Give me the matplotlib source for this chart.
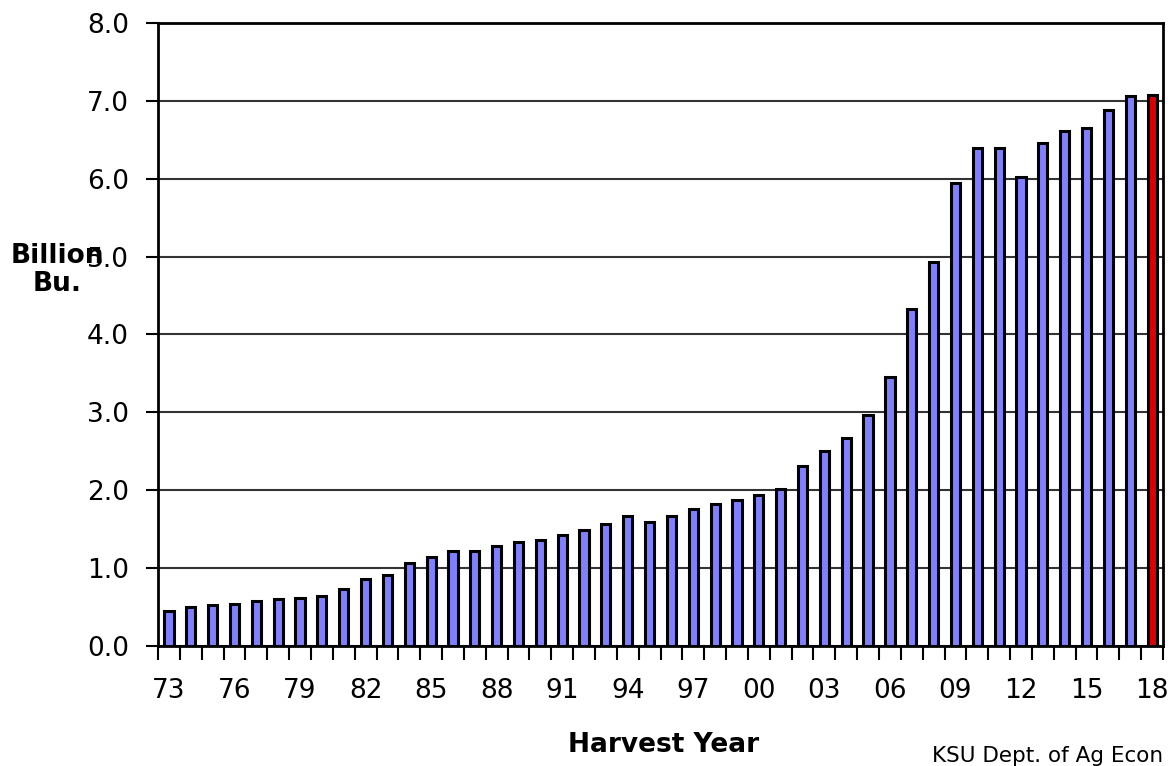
import numpy as np
import matplotlib
matplotlib.use('Agg')
import matplotlib.pyplot as plt

# Harvest years 1973-2018 and storage capacity (billion bushels)
years = np.arange(1973, 2019)
capacity = [0.45, 0.50, 0.52, 0.54, 0.58, 0.60, 0.62, 0.64, 0.73, 0.86,
            0.91, 1.06, 1.14, 1.22, 1.22, 1.28, 1.34, 1.36, 1.42, 1.49,
            1.57, 1.67, 1.59, 1.67, 1.76, 1.82, 1.88, 1.94, 2.02, 2.31,
            2.50, 2.67, 2.96, 3.46, 4.33, 4.93, 5.94, 6.40, 6.40, 6.02,
            6.46, 6.61, 6.65, 6.88, 7.06, 7.08]
yticks = [0, 1, 2, 3, 4, 5, 6, 7, 8]
label_years = years[::3]

x = np.arange(len(years))
colors = ['#8080FF'] * (len(years) - 1) + ['#DD0000']

fig = plt.figure(figsize=(11.75, 7.66), dpi=100)
ax = fig.add_axes([0.1345, 0.1567, 0.8553, 0.8133])

ax.set_axisbelow(True)
ax.yaxis.grid(True, color='#333333', linewidth=1.5)
ax.bar(x, capacity, width=0.42, color=colors, edgecolor='black', linewidth=2.2)

ax.set_xlim(-0.5, len(years) - 0.5)
ax.set_ylim(0, 8)
ax.set_yticks(yticks)
ax.set_yticklabels(['%.1f' % v for v in yticks], fontsize=19)
ax.tick_params(axis='y', length=9, width=1.5, pad=12)

# labels every third year at bar centres, small ticks at category boundaries
ax.set_xticks(x[::3])
ax.set_xticklabels(['%02d' % (y % 100) for y in label_years], fontsize=19)
ax.set_xticks(np.arange(-0.5, len(years)), minor=True)
ax.tick_params(axis='x', which='major', length=0, pad=23)
ax.tick_params(axis='x', which='minor', length=10, width=1.5)

for s in ax.spines.values():
    s.set_linewidth(2)

fig.text(57 / 1175, 1 - 270 / 766, 'Billion\nBu.', fontsize=19, fontweight='bold',
         ha='center', va='center', linespacing=1.1)
fig.text(664 / 1175, 1 - 745 / 766, 'Harvest Year', fontsize=19, fontweight='bold',
         ha='center', va='center')
fig.text(932 / 1175, 1 - 756 / 766, 'KSU Dept. of Ag Econ', fontsize=15.5,
         ha='left', va='center')

fig.savefig('out.png', dpi=100)
